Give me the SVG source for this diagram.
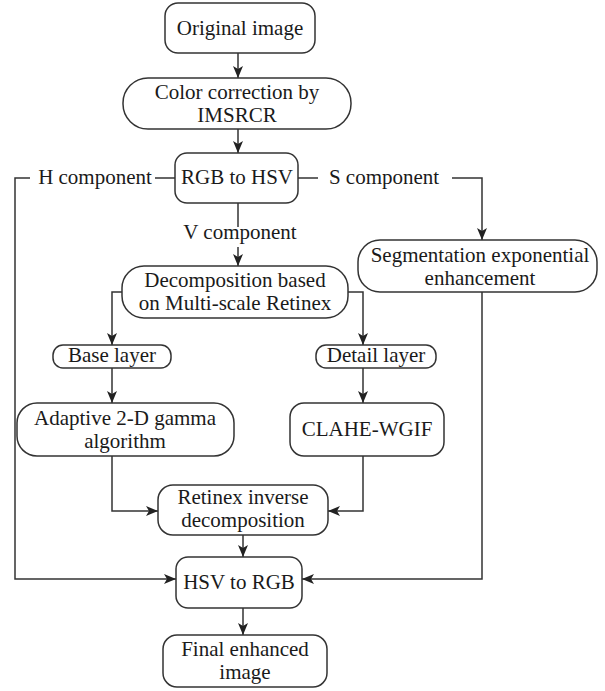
<svg xmlns="http://www.w3.org/2000/svg" width="605" height="691" viewBox="0 0 605 691">
<style>
.box{fill:#fff;stroke:#333;stroke-width:1.5}
.ln{fill:none;stroke:#333;stroke-width:1.5}
.ar{fill:none;stroke:#333;stroke-width:1.5;marker-end:url(#ah)}
.t{font-size:21px;fill:#1a1a1a;text-anchor:middle}
</style>
<defs>
<marker id="ah" markerWidth="12" markerHeight="10" refX="12" refY="5" orient="auto" markerUnits="userSpaceOnUse">
<path d="M0,0 L12,5 L0,10 L3,5 z" fill="#222"/>
</marker>
</defs>
<rect width="605" height="691" fill="#fff"/>
<g id="connectors">
<path class="ar" d="M238,53 V78"/>
<path class="ar" d="M238,129 V153"/>
<path class="ln" d="M175,178 H155"/>
<path class="ar" d="M30,178 H15 V579 H176"/>
<path class="ln" d="M298,178 H318"/>
<path class="ar" d="M452,178 H482 V240"/>
<path class="ln" d="M238,203 V227"/>
<path class="ar" d="M238,247 V266"/>
<path class="ar" d="M122,292 H112 V345"/>
<path class="ar" d="M112,368 V403"/>
<path class="ar" d="M112,456 V511 H158"/>
<path class="ar" d="M348,292 H363 V345"/>
<path class="ar" d="M363,368 V403"/>
<path class="ar" d="M363,456 V511 H328"/>
<path class="ar" d="M243,535 V557"/>
<path class="ar" d="M482,292 V579 H302"/>
<path class="ar" d="M243,608 V635"/>
</g>
<g font-family="'Liberation Serif', 'Times New Roman', serif">
<g id="lbl-h"><text class="t" x="95" y="184">H component</text></g>
<g id="lbl-s"><text class="t" x="384" y="184">S component</text></g>
<g id="lbl-v"><text class="t" x="240" y="239">V component</text></g>
<g id="n-original"><rect class="box" x="165" y="3" width="150" height="50" rx="13"/><text class="t" x="240" y="35">Original image</text></g>
<g id="n-color"><rect class="box" x="123" y="78" width="228" height="51" rx="25"/><text class="t" x="237" y="99">Color correction by</text><text class="t" x="237" y="122">IMSRCR</text></g>
<g id="n-rgb2hsv"><rect class="box" x="175" y="153" width="123" height="50" rx="12"/><text class="t" x="237" y="184">RGB to HSV</text></g>
<g id="n-seg"><rect class="box" x="358" y="240" width="239" height="52" rx="22"/><text class="t" x="480" y="262">Segmentation exponential</text><text class="t" x="480" y="285">enhancement</text></g>
<g id="n-decomp"><rect class="box" x="122" y="266" width="226" height="52" rx="22"/><text class="t" x="235" y="287">Decomposition based</text><text class="t" x="235" y="310">on Multi-scale Retinex</text></g>
<g id="n-base"><rect class="box" x="53" y="345" width="118" height="23" rx="10"/><text class="t" x="112" y="362">Base layer</text></g>
<g id="n-detail"><rect class="box" x="316" y="345" width="120" height="23" rx="10"/><text class="t" x="376" y="362">Detail layer</text></g>
<g id="n-gamma"><rect class="box" x="17" y="403" width="217" height="53" rx="20"/><text class="t" x="125" y="425">Adaptive 2-D gamma</text><text class="t" x="125" y="448">algorithm</text></g>
<g id="n-clahe"><rect class="box" x="290" y="403" width="154" height="53" rx="14"/><text class="t" x="367" y="436">CLAHE-WGIF</text></g>
<g id="n-retinex"><rect class="box" x="158" y="485" width="170" height="50" rx="15"/><text class="t" x="243" y="504">Retinex inverse</text><text class="t" x="243" y="527">decomposition</text></g>
<g id="n-hsv2rgb"><rect class="box" x="176" y="557" width="126" height="51" rx="12"/><text class="t" x="239" y="589">HSV to RGB</text></g>
<g id="n-final"><rect class="box" x="163" y="635" width="164" height="52" rx="14"/><text class="t" x="245" y="656">Final enhanced</text><text class="t" x="245" y="679">image</text></g>
</g>
</svg>
